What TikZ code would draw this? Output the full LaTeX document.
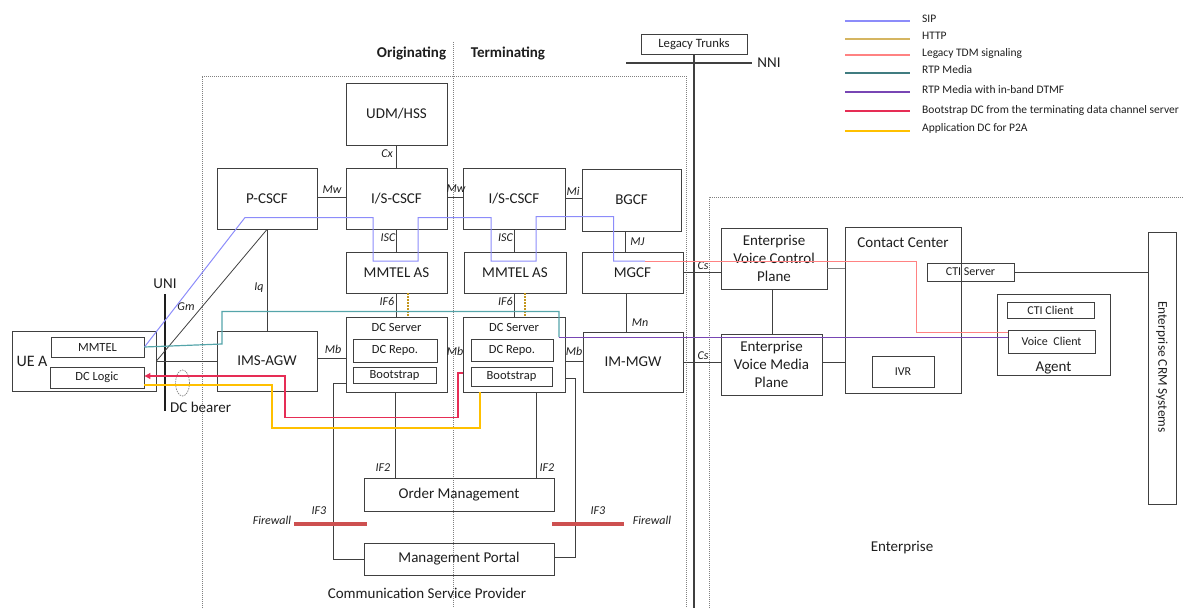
\documentclass[tikz,border=0pt]{standalone}
\usepackage{fontspec}
\setmainfont{Carlito}
\usetikzlibrary{arrows.meta}
\definecolor{sip}{RGB}{140,140,250}
\definecolor{http}{RGB}{195,150,30}
\definecolor{tdm}{RGB}{255,130,130}
\definecolor{rtp}{RGB}{85,165,170}
\definecolor{dtmf}{RGB}{120,70,180}
\definecolor{boot}{RGB}{230,45,85}
\definecolor{appdc}{RGB}{255,192,0}
\definecolor{fw}{RGB}{205,80,80}
\definecolor{edge}{RGB}{64,64,64}
\definecolor{txt}{RGB}{30,30,30}
\tikzset{
  box/.style={draw=edge, line width=0.9pt, inner sep=0pt, text=txt, font=\fontsize{15}{18}\selectfont, align=center},
  sbox/.style={box, font=\fontsize{12.5}{14}\selectfont},
  tbox/.style={box, font=\fontsize{12}{13}\selectfont},
  lbl/.style={inner sep=0pt, text=txt, font=\fontsize{12}{13}\selectfont\itshape},
  plain/.style={inner sep=0pt, text=txt, font=\fontsize{15}{18}\selectfont},
  conn/.style={draw=edge, line width=0.8pt},
  dotline/.style={draw=gray, line width=0.6pt, dash pattern=on 1pt off 1pt},
  legtxt/.style={inner sep=0pt, anchor=west, text=txt, font=\fontsize{11.5}{12.5}\selectfont},
  sipl/.style={draw=sip, line width=1pt},
  tdml/.style={draw=tdm, line width=1pt},
  rtpl/.style={draw=rtp, line width=1.2pt},
  dtmfl/.style={draw=dtmf, line width=1pt},
  bootl/.style={draw=boot, line width=1.1pt},
  appl/.style={draw=appdc, line width=1.2pt},
  httpl/.style={draw=http, line width=1.2pt, dash pattern=on 1.5pt off 1.5pt},
  fwl/.style={draw=fw, line width=4pt},
  legl/.style={line width=1.3pt}
}
\begin{document}
\begin{tikzpicture}[x=1pt,y=-1pt]
\useasboundingbox (0,0) rectangle (1183,608);

% dotted domain boundaries
\draw[dotline] (202,608) -- (202,76) -- (686,76) -- (686,608);
\draw[dotline] (453,42) -- (453,608);
\draw[dotline] (709,608) -- (709,197) -- (1183,197);

% headings
\node[inner sep=0pt, text=txt, font=\fontsize{15}{17}\selectfont\bfseries] (orig) at (411.5,53) {Originating};
\node[inner sep=0pt, text=txt, font=\fontsize{15}{17}\selectfont\bfseries] (term) at (508,53) {Terminating};

% legacy trunks / NNI
\node[tbox, font=\fontsize{12.7}{14}\selectfont, minimum width=106pt, minimum height=20pt] (legacy) at (694,44) {Legacy Trunks};
\coordinate (nnil) at (626,63);
\coordinate (nnir) at (752,63);
\coordinate (nnib) at (694,608);
\draw[draw=edge, line width=1.6pt] (nnil) -- (nnir);
\draw[draw=edge, line width=2pt] (legacy.south) -- (nnib);
\node[plain] (nni) at (769,63) {NNI};

% CSP nodes
\node[box, minimum width=101pt, minimum height=62pt] (udm) at (396.5,114) {UDM/HSS};
\node[box, minimum width=100pt, minimum height=61pt] (pcscf) at (267,198.5) {P-CSCF};
\node[box, minimum width=101pt, minimum height=61pt] (iscfo) at (396.5,198.5) {I/S-CSCF};
\node[box, minimum width=102pt, minimum height=61pt] (iscft) at (514,198.5) {I/S-CSCF};
\node[box, minimum width=99pt, minimum height=62pt] (bgcf) at (631.5,200) {BGCF};
\node[box, minimum width=101pt, minimum height=41pt] (mmaso) at (396.5,272.5) {MMTEL AS};
\node[box, minimum width=102pt, minimum height=41pt] (mmast) at (515,272.5) {MMTEL AS};
\node[box, minimum width=101pt, minimum height=41pt] (mgcf) at (632.5,272.5) {MGCF};
\node[box, minimum width=100pt, minimum height=60pt] (imsagw) at (267,361) {IMS-AGW};
\node[box, minimum width=100pt, minimum height=60pt] (immgw) at (633,362) {IM-MGW};

\node[box, minimum width=101pt, minimum height=75pt] (dcso) at (396.5,354.5) {};
\node[plain, font=\fontsize{12.5}{14}\selectfont] (dcsot) at (396.5,327) {DC Server};
\node[sbox, minimum width=84pt, minimum height=23pt] (dcrepoo) at (395,350.5) {DC Repo.};
\node[sbox, minimum width=83pt, minimum height=16pt] (bsto) at (394.5,375) {Bootstrap};

\node[box, minimum width=102pt, minimum height=75pt] (dcst) at (514,354.5) {};
\node[plain, font=\fontsize{12.5}{14}\selectfont] (dcstt) at (514,327) {DC Server};
\node[sbox, minimum width=82pt, minimum height=22pt] (dcrepot) at (512,350) {DC Repo.};
\node[sbox, minimum width=81pt, minimum height=19pt] (bstt) at (511.5,376.5) {Bootstrap};

\node[box, minimum width=190pt, minimum height=33pt] (ordm) at (459,494.5) {Order Management};
\node[box, minimum width=190pt, minimum height=32pt] (mgmtp) at (459,559) {Management Portal};

\node[plain] (csp) at (427,593) {Communication Service Provider};

% UE
\node[box, minimum width=144pt, minimum height=60pt] (uea) at (84,361) {};
\node[plain, font=\fontsize{16}{18}\selectfont] (ueat) at (32,361) {UE A};
\node[sbox, minimum width=93pt, minimum height=20pt] (mmtel) at (97.5,347) {MMTEL};
\node[sbox, minimum width=94pt, minimum height=21pt] (dclogic) at (97,377.5) {DC Logic};

% UNI and DC bearer
\coordinate (unit) at (165,294);
\coordinate (unib) at (165,411);
\draw[draw=txt, line width=2pt] (unit) -- (unib);
\node[plain] (uni) at (165,284) {UNI};
\draw[draw=gray, line width=0.7pt, dash pattern=on 1.5pt off 1pt] (182.5,383) ellipse [x radius=7, y radius=13];
\node[plain, anchor=west] (dcb) at (170,407) {DC bearer};

% CSP connectors
\draw[conn] (pcscf.east |- 0,197) -- (iscfo.west |- 0,197);
\draw[conn] (iscfo.east |- 0,197) -- (iscft.west |- 0,197);
\draw[conn] (iscft.east |- 0,198) -- (bgcf.west |- 0,198);
\draw[conn] (udm.south) -- (iscfo.north);
\draw[conn] (iscfo.south) -- (mmaso.north);
\draw[conn] (iscft.south) -- (mmast.north -| iscft.south);
\draw[conn] (bgcf.south -| 625,0) -- (mgcf.north -| 625,0);
\draw[conn] (mmaso.south -| 396,0) -- (dcso.north -| 396,0);
\draw[conn] (mmast.south -| 514,0) -- (dcst.north -| 514,0);
\draw[httpl] (mmaso.south -| 408,0) -- (dcso.north -| 408,0);
\draw[httpl] (mmast.south -| 525,0) -- (dcst.north -| 525,0);
\draw[conn] (mgcf.south -| 626,0) -- (immgw.north -| 626,0);
\draw[conn] (imsagw.east |- 0,358) -- (dcso.west |- 0,358);
\draw[conn] (dcst.east |- 0,361) -- (immgw.west |- 0,361);
\draw[conn] (mgcf.east |- 0,272) -- (720.5,272);
\draw[conn] (immgw.east |- 0,362) -- (721,362);
\draw[conn] (pcscf.south) -- (imsagw.north);
\draw[conn] (pcscf.south) -- (uea.east);
\draw[conn] (uea.east) -- (imsagw.west);
\draw[conn] (dcso.south -| 395,0) -- (ordm.north -| 395,0);
\draw[conn] (dcst.south -| 536,0) -- (ordm.north -| 536,0);
\draw[conn] (dcso.west |- 0,383) -- (333,383) -- (333,559) -- (mgmtp.west);
\draw[conn] (dcst.east |- 0,378) -- (575,378) -- (575,557) -- (mgmtp.east |- 0,557);

% interface labels
\node[lbl] (lmw1) at (332,190) {Mw};
\node[lbl] (lmw2) at (456,189) {Mw};
\node[lbl] (lmi) at (573,191) {Mi};
\node[lbl] (lcx) at (387,154) {Cx};
\node[lbl] (lisc1) at (388,238) {ISC};
\node[lbl] (lisc2) at (505.5,238) {ISC};
\node[lbl] (lmj) at (637.5,242) {MJ};
\node[lbl] (lif61) at (387,301) {IF6};
\node[lbl] (lif62) at (505.5,301) {IF6};
\node[lbl] (lmn) at (640,323) {Mn};
\node[lbl] (lmb1) at (333,349) {Mb};
\node[lbl] (lmb2) at (455,351.5) {Mb};
\node[lbl] (lmb3) at (574,351.5) {Mb};
\node[lbl] (lcs1) at (703,266) {Cs};
\node[lbl] (lcs2) at (703,356) {Cs};
\node[lbl] (liq) at (259,288) {Iq};
\node[lbl] (lgm) at (186,307) {Gm};
\node[lbl] (lif21) at (383,468) {IF2};
\node[lbl] (lif22) at (547,468) {IF2};
\node[lbl] (lif31) at (319,511) {IF3};
\node[lbl] (lif32) at (598,511) {IF3};
\node[lbl] (lfw1) at (272,520) {Firewall};
\node[lbl] (lfw2) at (652,520) {Firewall};

% firewalls
\coordinate (fw1a) at (294,524);
\coordinate (fw1b) at (367,524);
\coordinate (fw2a) at (552,524);
\coordinate (fw2b) at (624,524);
\draw[fwl] (fw1a) -- (fw1b);
\draw[fwl] (fw2a) -- (fw2b);

% Enterprise nodes
\node[box, minimum width=106pt, minimum height=61pt, font=\fontsize{15}{18}\selectfont] (evcp) at (774,258.5) {Enterprise\\Voice Control\\Plane};
\node[box, minimum width=101pt, minimum height=61pt, font=\fontsize{15}{18}\selectfont] (evmp) at (771.5,364.5) {Enterprise\\Voice Media\\Plane};
\node[box, minimum width=116pt, minimum height=166pt] (cc) at (903,310) {};
\node[plain] (cct) at (903,243) {Contact Center};
\node[tbox, minimum width=87pt, minimum height=18pt] (cti) at (970.5,272) {CTI Server};
\node[tbox, minimum width=62pt, minimum height=31pt] (ivr) at (903,371.5) {IVR};
\node[box, minimum width=113pt, minimum height=81pt] (agent) at (1053.5,334.5) {};
\node[plain] (agentt) at (1053.5,368) {Agent};
\node[tbox, minimum width=87pt, minimum height=16pt] (ctic) at (1050.5,310) {CTI Client};
\node[tbox, minimum width=87pt, minimum height=23pt] (vc) at (1051.5,341.5) {Voice\ \ Client};
\node[box, minimum width=28pt, minimum height=272pt] (crm) at (1162,368) {};
\node[inner sep=0pt, text=txt, rotate=-90, font=\fontsize{13.4}{14}\selectfont] (crmt) at (1162,367) {Enterprise CRM Systems};
\node[plain] (ent) at (902,548) {Enterprise};

\draw[conn] (evcp.south -| 772,0) -- (evmp.north -| 772,0);
\draw[draw=gray, line width=1.2pt] (evcp.east |- 0,268.5) -- (cc.west |- 0,268.5);
\draw[conn] (evmp.east |- 0,362) -- (cc.west |- 0,362);
\draw[conn] (cti.east) -- (crm.west |- cti.east);

% signalling / media paths
\draw[sipl] (mmtel.east) -- (245,217.5) -- (373,217.5) -- (373,261) -- (418,261) -- (418,217.5)
  -- (491,217.5) -- (491,261) -- (536,261) -- (536,216.5) -- (613.5,216.5) -- (613.5,261) -- (645,261);
\draw[tdml] (645,261) -- (916,261) -- (916,332) -- (vc.west |- 0,332);
\draw[rtpl] (mmtel.east) -- (222,344) -- (222,311.5) -- (559,311.5) -- (559,337);
\draw[dtmfl] (559,337) -- (vc.west |- 0,337);
\draw[bootl, -{Triangle[length=6pt,width=6pt]}] (dcst.west |- 0,373) -- (458,373) -- (458,417.5) -- (285,417.5) -- (285,376) -- (dclogic.east |- 0,376);
\draw[appl] (dclogic.east |- 0,385) -- (272,385) -- (272,428) -- (480,428) -- (dcst.south -| 480,0);

% legend
\draw[legl, draw=sip] (845,21) -- (910,21);
\draw[legl, draw=http!70!white] (845,39) -- (910,39);
\draw[legl, draw=tdm] (845,55) -- (910,55);
\draw[legl, draw=rtp!75!black] (845,73) -- (910,73);
\draw[legl, draw=dtmf] (845,92) -- (910,92);
\draw[legl, draw=boot] (845,111) -- (910,111);
\draw[legl, draw=appdc] (845,131) -- (910,131);
\node[legtxt] (lg1) at (922,19) {SIP};
\node[legtxt] (lg2) at (922,36) {HTTP};
\node[legtxt] (lg3) at (922,53) {Legacy TDM signaling};
\node[legtxt] (lg4) at (922,70) {RTP Media};
\node[legtxt] (lg5) at (922,90) {RTP Media with in-band DTMF};
\node[legtxt] (lg6) at (922,110.5) {Bootstrap DC from the terminating data channel server};
\node[legtxt] (lg7) at (922,128.5) {Application DC for P2A};
\end{tikzpicture}
\end{document}
